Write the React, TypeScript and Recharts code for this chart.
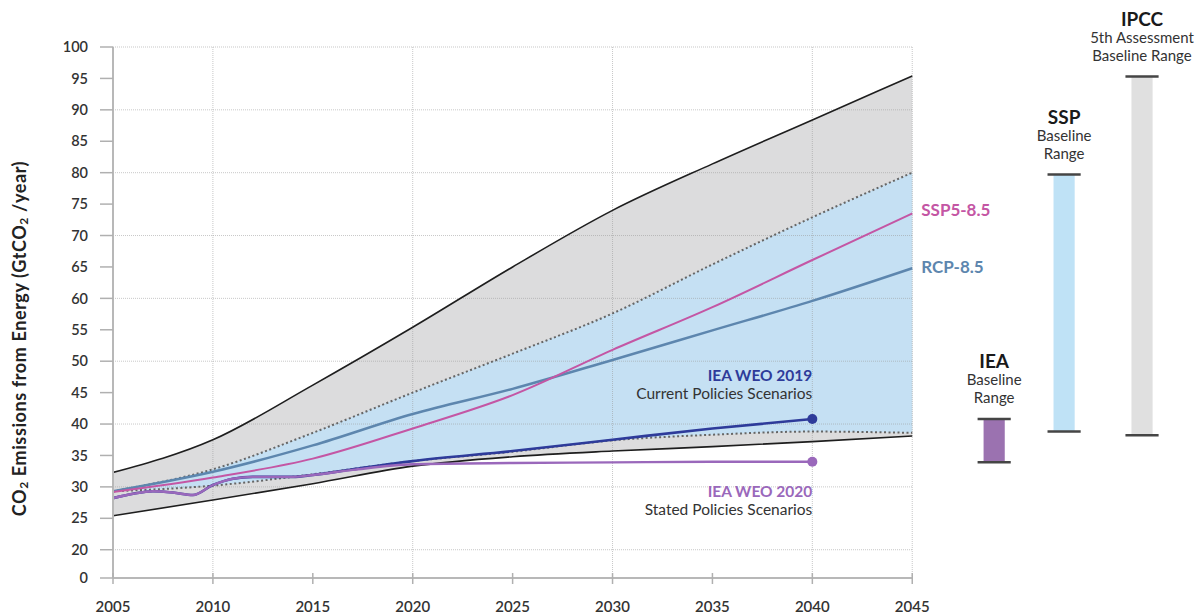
import React from 'react';
import {
  Area,
  ComposedChart,
  LabelList,
  Line,
  ReferenceArea,
  ReferenceLine,
  XAxis,
  YAxis,
} from 'recharts';

const FONT = 'Lato, "Open Sans", sans-serif';

// scenario ranges, read every 5 years
const years = [2005, 2010, 2015, 2020, 2025, 2030, 2035, 2040, 2045];
const ipccHigh = [32.3, 37.5, 46.2, 55.4, 65.0, 74.0, 81.4, 88.4, 95.4];
const ipccLow = [25.4, 27.9, 30.5, 33.3, 34.8, 35.7, 36.4, 37.2, 38.1];
const sspHigh = [29.3, 32.8, 38.6, 45.0, 51.2, 57.6, 65.4, 72.9, 80.0];
const sspLow = [29.3, 30.2, 32.0, 34.1, 35.6, 37.4, 38.3, 38.8, 38.6];
const rcp85 = [29.3, 32.4, 36.6, 41.6, 45.6, 50.2, 54.9, 59.6, 64.8];
const ssp585 = [29.2, 31.5, 34.5, 39.3, 44.6, 51.8, 58.6, 66.1, 73.5];

// IEA outlooks (history yearly, projections every 5 years)
const ieaYears = [2005, 2006, 2007, 2008, 2009, 2010, 2011, 2012, 2013, 2014, 2015, 2017, 2020, 2025, 2030, 2035, 2040];
const weo2019 = [28.2, 28.9, 29.3, 29.1, 28.7, 30.3, 31.3, 31.6, 31.6, 31.6, 31.9, 32.8, 34.1, 35.7, 37.5, 39.3, 40.8];
const weo2020 = [28.2, 28.9, 29.3, 29.1, 28.7, 30.3, 31.3, 31.6, 31.6, 31.6, 31.9, 32.7, 33.6, 33.8, 33.9, 34.0, 34.0];

// baseline range bars on the right
const rangeNames = ['IEA', 'SSP', 'IPCC'];
const rangeNotes = [['Baseline', 'Range'], ['Baseline', 'Range'], ['5th Assessment', 'Baseline Range']];
const rangeLow = [33.9, 38.8, 38.2];
const rangeHigh = [40.8, 79.7, 95.3];

const xTicks = [2005, 2010, 2015, 2020, 2025, 2030, 2035, 2040, 2045];
const yTicks = [15.5, 20, 25, 30, 35, 40, 45, 50, 55, 60, 65, 70, 75, 80, 85, 90, 95, 100];
const xGrid = [2010, 2020, 2030, 2040, 2045];
const yGrid = [20, 30, 40, 50, 60, 70, 80, 90, 100];

// layout for the range bars (x axis units past 2045)
const rangeSlots = [2049.1, 2052.6, 2056.5];
const rangeFills = ['#9b72b0', '#bfe2f6', '#e0e0e0'];
const BAR_HALF = 0.53;
const CAP_HALF = 0.83;

const mainData = years.map((year, i) => ({
  year,
  ipccLow: ipccLow[i],
  ipccHigh: ipccHigh[i],
  sspLow: sspLow[i],
  sspHigh: sspHigh[i],
  rcp: rcp85[i],
  ssp585: ssp585[i],
}));

const ieaData = ieaYears.map((year, i) => ({ year, weo2019: weo2019[i], weo2020: weo2020[i] }));

function YLabel(props: any) {
  const { viewBox } = props;
  const cx = 21;
  const cy = viewBox.y + viewBox.height / 2 + 26;
  return (
    <text
      x={cx}
      y={cy}
      transform={`rotate(-90 ${cx} ${cy})`}
      textAnchor="middle"
      dominantBaseline="middle"
      fontFamily={FONT}
      fontWeight={700}
      fontSize={18}
      letterSpacing={0.6}
      fill="#222"
    >
      CO<tspan dy={4} fontSize={12}>2</tspan>
      <tspan dy={-4}> Emissions from Energy (GtCO</tspan>
      <tspan dy={4} fontSize={12}>2</tspan>
      <tspan dy={-4}> /year)</tspan>
    </text>
  );
}

function XTick(props: any) {
  const { x, y, payload } = props;
  return (
    <g>
      <line x1={x} x2={x} y1={y - 13} y2={y - 2} stroke="#b0b0b0" strokeWidth={1.5} />
      <text x={x} y={y + 26} textAnchor="middle" fontFamily={FONT} fontSize={15} fontWeight={600} fill="#333">
        {payload.value}
      </text>
    </g>
  );
}

function endLabel(lines: { text: string; color: string; bold?: boolean; size?: number }[], dx: number, dy: number[], anchor: string, lastIndex: number) {
  return (props: any) => {
    const { x, y, index } = props;
    if (index !== lastIndex) return null;
    return (
      <g>
        {lines.map((l, k) => (
          <text
            key={k}
            x={x + dx}
            y={y + dy[k]}
            textAnchor={anchor}
            dominantBaseline="middle"
            fontFamily={FONT}
            fontSize={l.size ?? 15.5}
            fontWeight={l.bold ? 700 : 400}
            fill={l.color}
          >
            {l.text}
          </text>
        ))}
      </g>
    );
  };
}

function rangeLabel(title: string, notes: string[]) {
  return (props: any) => {
    const { viewBox } = props;
    const cx = viewBox.x + viewBox.width / 2;
    const top = viewBox.y;
    return (
      <g fontFamily={FONT} textAnchor="middle">
        <text x={cx} y={top - 51} fontSize={19} fontWeight={700} fill="#1a1a1a">{title}</text>
        <text x={cx} y={top - 34} fontSize={15} fill="#333">{notes[0]}</text>
        <text x={cx} y={top - 16} fontSize={15} fill="#333">{notes[1]}</text>
      </g>
    );
  };
}

const dotAtEnd = (color: string, lastIndex: number) => (p: any) =>
  p.index === lastIndex ? <circle key={p.index} cx={p.cx} cy={p.cy} r={5} fill={color} /> : <g key={p.index} />;

export default function App() {
  const lastMain = years.length - 1;
  const lastIea = ieaYears.length - 1;
  return (
    <div style={{ position: 'absolute', left: 0, top: 0, width: 1199, height: 615, background: '#fff' }}>
      <ComposedChart width={1199} height={615} data={mainData} margin={{ top: 47, right: 27, bottom: 7, left: 53 }}>
        <XAxis
          type="number"
          dataKey="year"
          domain={[2005, 2058]}
          allowDataOverflow
          ticks={xTicks}
          interval={0}
          axisLine={false}
          tickLine={false}
          tick={<XTick />}
          height={30}
        />
        <YAxis
          type="number"
          domain={[15.5, 100]}
          allowDataOverflow
          ticks={yTicks}
          interval={0}
          width={60}
          tickFormatter={(v: number) => (v < 20 ? '0' : String(v))}
          axisLine={{ stroke: '#b8b8b8', strokeWidth: 2 }}
          tickLine={{ stroke: '#b0b0b0', strokeWidth: 1.5 }}
          tickSize={13}
          tickMargin={12}
          tick={{ fontSize: 14.5, fill: '#333', fontFamily: FONT, fontWeight: 600 }}
          label={<YLabel />}
        />

        <Area
          type="monotone"
          dataKey={(d: any) => [d.ipccLow, d.ipccHigh]}
          fill="#dcdcdd"
          fillOpacity={1}
          stroke="none"
          isAnimationActive={false}
        />
        <Area
          type="monotone"
          dataKey={(d: any) => [d.sspLow, d.sspHigh]}
          fill="#c5e0f3"
          fillOpacity={1}
          stroke="none"
          isAnimationActive={false}
        />

        {yGrid.map((v) => (
          <ReferenceLine
            key={`h${v}`}
            segment={[{ x: 2005, y: v }, { x: 2045, y: v }]}
            stroke="#9a9a9a"
            strokeOpacity={0.55}
            strokeDasharray="1 1"
          />
        ))}
        {xGrid.map((v) => (
          <ReferenceLine
            key={`v${v}`}
            segment={[{ x: v, y: 15.5 }, { x: v, y: 100 }]}
            stroke="#9a9a9a"
            strokeOpacity={0.55}
            strokeDasharray="1 1"
          />
        ))}
        <ReferenceLine segment={[{ x: 2005, y: 15.5 }, { x: 2045, y: 15.5 }]} stroke="#b8b8b8" strokeWidth={2} />

        <Line type="monotone" dataKey="ipccHigh" stroke="#1e1e1e" strokeWidth={1.6} dot={false} isAnimationActive={false} />
        <Line type="monotone" dataKey="ipccLow" stroke="#1e1e1e" strokeWidth={1.6} dot={false} isAnimationActive={false} />
        <Line type="monotone" dataKey="sspHigh" stroke="#666" strokeWidth={2} strokeDasharray="2 2.5" dot={false} isAnimationActive={false} />
        <Line type="monotone" dataKey="sspLow" stroke="#666" strokeWidth={2} strokeDasharray="2 2.5" dot={false} isAnimationActive={false} />
        <Line type="monotone" dataKey="rcp" stroke="#5d86ae" strokeWidth={2.5} dot={false} isAnimationActive={false}>
          <LabelList
            dataKey="rcp"
            content={endLabel([{ text: 'RCP-8.5', color: '#5d86ae', bold: true, size: 17 }], 9, [0], 'start', lastMain)}
          />
        </Line>
        <Line type="monotone" dataKey="ssp585" stroke="#c456a4" strokeWidth={2} dot={false} isAnimationActive={false}>
          <LabelList
            dataKey="ssp585"
            content={endLabel([{ text: 'SSP5-8.5', color: '#c456a4', bold: true, size: 17 }], 9, [-2], 'start', lastMain)}
          />
        </Line>

        <Line
          data={ieaData}
          type="monotone"
          dataKey="weo2019"
          stroke="#2e3b9a"
          strokeWidth={2.6}
          dot={dotAtEnd('#2e3b9a', lastIea)}
          isAnimationActive={false}
        >
          <LabelList
            dataKey="weo2019"
            content={endLabel(
              [
                { text: 'IEA WEO 2019', color: '#2e3b9a', bold: true },
                { text: 'Current Policies Scenarios', color: '#333' },
              ],
              0,
              [-42, -24],
              'end',
              lastIea,
            )}
          />
        </Line>
        <Line
          data={ieaData}
          type="monotone"
          dataKey="weo2020"
          stroke="#9a68bb"
          strokeWidth={2.4}
          dot={dotAtEnd('#9a68bb', lastIea)}
          isAnimationActive={false}
        >
          <LabelList
            dataKey="weo2020"
            content={endLabel(
              [
                { text: 'IEA WEO 2020', color: '#9a68bb', bold: true },
                { text: 'Stated Policies Scenarios', color: '#333' },
              ],
              0,
              [31, 49],
              'end',
              lastIea,
            )}
          />
        </Line>

        {rangeNames.map((name, i) => (
          <ReferenceArea
            key={name}
            x1={rangeSlots[i] - BAR_HALF}
            x2={rangeSlots[i] + BAR_HALF}
            y1={rangeLow[i]}
            y2={rangeHigh[i]}
            fill={rangeFills[i]}
            fillOpacity={1}
            stroke="none"
            label={{ content: rangeLabel(name, rangeNotes[i]) } as any}
          />
        ))}
        {rangeNames.map((name, i) => (
          <ReferenceLine
            key={`${name}-top`}
            segment={[{ x: rangeSlots[i] - CAP_HALF, y: rangeHigh[i] }, { x: rangeSlots[i] + CAP_HALF, y: rangeHigh[i] }]}
            stroke="#454545"
            strokeWidth={2.5}
          />
        ))}
        {rangeNames.map((name, i) => (
          <ReferenceLine
            key={`${name}-bottom`}
            segment={[{ x: rangeSlots[i] - CAP_HALF, y: rangeLow[i] }, { x: rangeSlots[i] + CAP_HALF, y: rangeLow[i] }]}
            stroke="#454545"
            strokeWidth={2.5}
          />
        ))}
      </ComposedChart>
    </div>
  );
}
